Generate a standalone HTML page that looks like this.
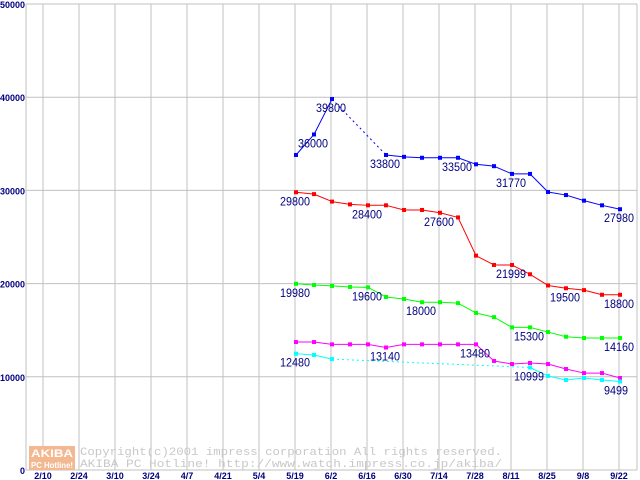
<!DOCTYPE html>
<html><head><meta charset="utf-8"><style>
body{margin:0;background:#fff}
svg{display:block}
.lbl{font-family:"Liberation Sans",sans-serif;font-size:12px;fill:#000080}
.tick{font-family:"Liberation Sans",sans-serif;font-size:9px;font-weight:bold;fill:#000080}
.cp{font-family:"Liberation Mono",monospace;font-size:11px;fill:#c8c8c8}
</style></head><body>
<svg id="c" width="640" height="480">
<g id="grid"></g><g id="series"></g><g id="labels"></g>
<g>
<rect x="29" y="446" width="46" height="24" fill="#f4b890"/>
<text x="31" y="457" font-family="Liberation Sans,sans-serif" font-size="11" fill="#fff" font-weight="bold" textLength="42" lengthAdjust="spacingAndGlyphs">AKIBA</text>
<text x="31" y="468" font-family="Liberation Sans,sans-serif" font-size="8" fill="#fff" font-weight="bold" textLength="42" lengthAdjust="spacingAndGlyphs">PC Hotline!</text>
<text class="cp" x="80" y="455" textLength="422" lengthAdjust="spacingAndGlyphs">Copyright(c)2001 impress corporation All rights reserved.</text>
<text class="cp" x="80" y="467" textLength="422" lengthAdjust="spacingAndGlyphs">AKIBA PC Hotline!  http://www.watch.impress.co.jp/akiba/</text>
</g>
</svg>
<script>
const xTicks=["2/10","2/24","3/10","3/24","4/7","4/21","5/4","5/19","6/2","6/16","6/30","7/14","7/28","8/11","8/25","9/8","9/22"];
const yTicks=[0,10000,20000,30000,40000,50000];
const blue=[33800,36000,39800,null,null,33800,33600,33500,33500,33500,32800,32600,31770,31770,29830,29500,28900,28400,27980];
const red=[29800,29600,28800,28500,28400,28400,27900,27900,27600,27100,23000,21999,21999,21000,19800,19500,19300,18800,18800];
const green=[19980,19850,19750,19640,19600,18560,18350,18000,18000,17900,16850,16400,15300,15300,14800,14300,14160,14160,14160];
const magenta=[13730,13730,13480,13480,13480,13140,13480,13480,13480,13480,13480,11700,11370,11480,11370,10840,10400,10400,9870];
const cyan=[12480,12340,11900,null,null,null,null,null,null,null,null,null,null,10999,10090,9660,9870,9660,9499];
const labelSeries=["blue","blue","blue","blue","blue","blue","red","red","red","red","red","red","green","green","green","green","green","magenta","magenta","cyan","cyan","cyan"];
const labelIdx=[1,2,5,9,12,18,0,4,8,12,15,18,0,4,7,13,18,5,10,0,13,18];
const labelText=["36000","39800","33800","33500","31770","27980","29800","28400","27600","21999","19500","18800","19980","19600","18000","15300","14160","13140","13480","12480","10999","9499"];
const NS="http://www.w3.org/2000/svg";
const X0=296,WK=18,Y0=470,YMAX=50000,YH=466;
const xw=i=>X0+i*WK;
const xt=k=>43+k*36;
const y=v=>Y0-v/YMAX*YH;
function mk(t,a,p){const e=document.createElementNS(NS,t);for(const k in a)e.setAttribute(k,a[k]);p.appendChild(e);return e;}
const grid=document.getElementById('grid');
yTicks.forEach(v=>{
 const l=mk('line',{x1:26,x2:637,y1:y(v),y2:y(v),stroke:'#c0c0c0','stroke-width':1},grid);
 
 
 const s=String(v);
 const t=mk('text',{x:25,y:y(v)+4,'text-anchor':'end',class:'tick',textLength:s.length*5,lengthAdjust:'spacingAndGlyphs'},grid);t.textContent=s;
 
 
});
mk('line',{x1:26,x2:26,y1:y(50000),y2:Y0,stroke:'#c0c0c0'},grid);
mk('line',{x1:637,x2:637,y1:y(50000),y2:Y0,stroke:'#c0c0c0'},grid);
xTicks.forEach((s,k)=>{
 const l=mk('line',{x1:xt(k),x2:xt(k),y1:y(50000),y2:Y0,stroke:'#c0c0c0'},grid);
 
 
 const t=mk('text',{x:xt(k),y:479,'text-anchor':'middle',class:'tick'},grid);t.textContent=s;
 
 
});
const S={blue:[blue,'#0000ff'],red:[red,'#ff0000'],green:[green,'#00ff00'],magenta:[magenta,'#ff00ff'],cyan:[cyan,'#00ffff']};
const sg=document.getElementById('series');
for(const name in S){
 const [d,c]=S[name];
 const g=mk('g',{},sg);
 
 
 let prev=-1;
 d.forEach((v,i)=>{
  if(v==null)return;
  if(prev>=0){
   const gap=i-prev>1;
   mk('line',{x1:xw(prev),y1:y(d[prev]),x2:xw(i),y2:y(v),stroke:c,'stroke-width':1,'stroke-dasharray':gap?'2,3':'none'},g);
  }
  prev=i;
 });
 d.forEach((v,i)=>{
  if(v==null)return;
  const r=mk('rect',{x:xw(i)-2,y:y(v)-2,width:4,height:4,fill:c},g);
  
  
 });
}
const lg=document.getElementById('labels');
labelText.forEach((s,j)=>{
 const d=S[labelSeries[j]][0],i=labelIdx[j];
 const t=mk('text',{x:xw(i)-16,y:y(d[i])+13,class:'lbl',textLength:s.length*6,lengthAdjust:'spacingAndGlyphs'},lg);t.textContent=s;
 
 
});
</script>
</body></html>
